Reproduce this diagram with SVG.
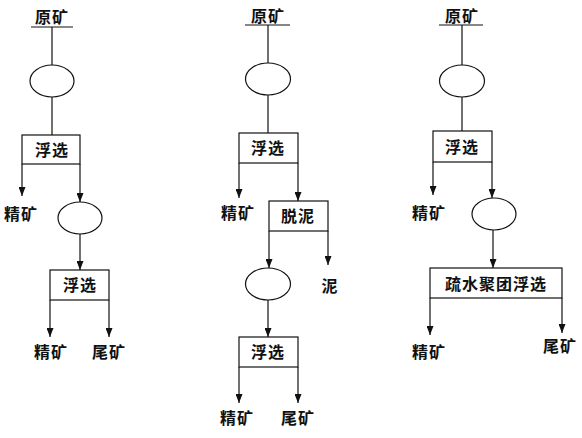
<svg xmlns="http://www.w3.org/2000/svg" width="582" height="438" viewBox="0 0 582 438">
<defs>
<style>
.t{font-family:"Noto Sans CJK SC","Noto Sans CJK JP",sans-serif;font-weight:bold;font-size:16px;fill:#111;text-anchor:middle;letter-spacing:1px}
.box{fill:#fff;stroke:#111;stroke-width:1.2}
.ell{fill:#fff;stroke:#111;stroke-width:1.2}
.ln{stroke:#111;stroke-width:1.2;fill:none}
.ar{stroke:#111;stroke-width:1.2;fill:none;marker-end:url(#arr)}
</style>
<marker id="arr" markerUnits="userSpaceOnUse" markerWidth="9" markerHeight="7" refX="9" refY="3.5" orient="auto" viewBox="0 0 9 7">
<path d="M0,0 L9,3.5 L0,7 Z" fill="#111"/>
</marker>
</defs>

<g id="connectors">
<!-- diagram 1 -->
<line class="ln" x1="31" y1="27" x2="73" y2="27"/>
<line class="ln" x1="52" y1="27" x2="52" y2="65"/>
<line class="ln" x1="52" y1="97" x2="52" y2="135"/>
<path class="ar" d="M22,164 V196"/>
<path class="ar" d="M80,164 V202"/>
<path class="ar" d="M80,234 V270"/>
<path class="ar" d="M50,300 V337"/>
<path class="ar" d="M109,300 V337"/>
<!-- diagram 2 -->
<line class="ln" x1="245" y1="25" x2="290" y2="25"/>
<line class="ln" x1="268" y1="25" x2="268" y2="63"/>
<line class="ln" x1="268" y1="95" x2="268" y2="133"/>
<path class="ar" d="M239,163 V198"/>
<path class="ar" d="M298,163 V201"/>
<path class="ar" d="M269,231 V268"/>
<path class="ar" d="M328,231 V265"/>
<path class="ar" d="M268,300 V337"/>
<path class="ar" d="M239,367 V403"/>
<path class="ar" d="M298,367 V403"/>
<!-- diagram 3 -->
<line class="ln" x1="439" y1="25" x2="483" y2="25"/>
<line class="ln" x1="462" y1="25" x2="462" y2="65"/>
<line class="ln" x1="462" y1="97" x2="462" y2="131"/>
<path class="ar" d="M433,162 V195"/>
<path class="ar" d="M492,162 V198"/>
<path class="ar" d="M493,230 V268"/>
<path class="ar" d="M430,298 V335"/>
<path class="ar" d="M562,298 V333"/>
</g>

<!-- diagram 1 nodes -->
<g id="d1-feed"><text class="t" x="52" y="23">原矿</text></g>
<g id="d1-ell1"><ellipse class="ell" cx="52" cy="81" rx="22" ry="16"/></g>
<g id="d1-flot1"><rect class="box" x="22" y="135" width="58" height="29"/><text class="t" x="52" y="156">浮选</text></g>
<g id="d1-conc1"><text class="t" x="21" y="220">精矿</text></g>
<g id="d1-ell2"><ellipse class="ell" cx="80" cy="218" rx="22" ry="16"/></g>
<g id="d1-flot2"><rect class="box" x="50" y="270" width="59" height="30"/><text class="t" x="80" y="291">浮选</text></g>
<g id="d1-conc2"><text class="t" x="51" y="358">精矿</text></g>
<g id="d1-tail"><text class="t" x="109" y="358">尾矿</text></g>

<!-- diagram 2 nodes -->
<g id="d2-feed"><text class="t" x="268" y="22">原矿</text></g>
<g id="d2-ell1"><ellipse class="ell" cx="268" cy="79" rx="22.5" ry="16"/></g>
<g id="d2-flot1"><rect class="box" x="239" y="133" width="59" height="30"/><text class="t" x="268" y="154">浮选</text></g>
<g id="d2-conc1"><text class="t" x="238" y="219">精矿</text></g>
<g id="d2-desl"><rect class="box" x="269" y="201" width="59" height="30"/><text class="t" x="298" y="222">脱泥</text></g>
<g id="d2-slime"><text class="t" x="330" y="292">泥</text></g>
<g id="d2-ell2"><ellipse class="ell" cx="268" cy="284" rx="22.5" ry="16"/></g>
<g id="d2-flot2"><rect class="box" x="239" y="337" width="59" height="30"/><text class="t" x="268" y="358">浮选</text></g>
<g id="d2-conc2"><text class="t" x="237" y="424">精矿</text></g>
<g id="d2-tail"><text class="t" x="298" y="424">尾矿</text></g>

<!-- diagram 3 nodes -->
<g id="d3-feed"><text class="t" x="462" y="22">原矿</text></g>
<g id="d3-ell1"><ellipse class="ell" cx="462" cy="81" rx="22.5" ry="16"/></g>
<g id="d3-flot1"><rect class="box" x="433" y="131" width="59" height="31"/><text class="t" x="462" y="153">浮选</text></g>
<g id="d3-conc1"><text class="t" x="429" y="219">精矿</text></g>
<g id="d3-ell2"><ellipse class="ell" cx="494" cy="214" rx="22" ry="16"/></g>
<g id="d3-hfa"><rect class="box" x="430" y="268" width="132" height="30"/><text class="t" x="496" y="290">疏水聚团浮选</text></g>
<g id="d3-conc2"><text class="t" x="429" y="358">精矿</text></g>
<g id="d3-tail"><text class="t" x="560" y="352">尾矿</text></g>
</svg>
